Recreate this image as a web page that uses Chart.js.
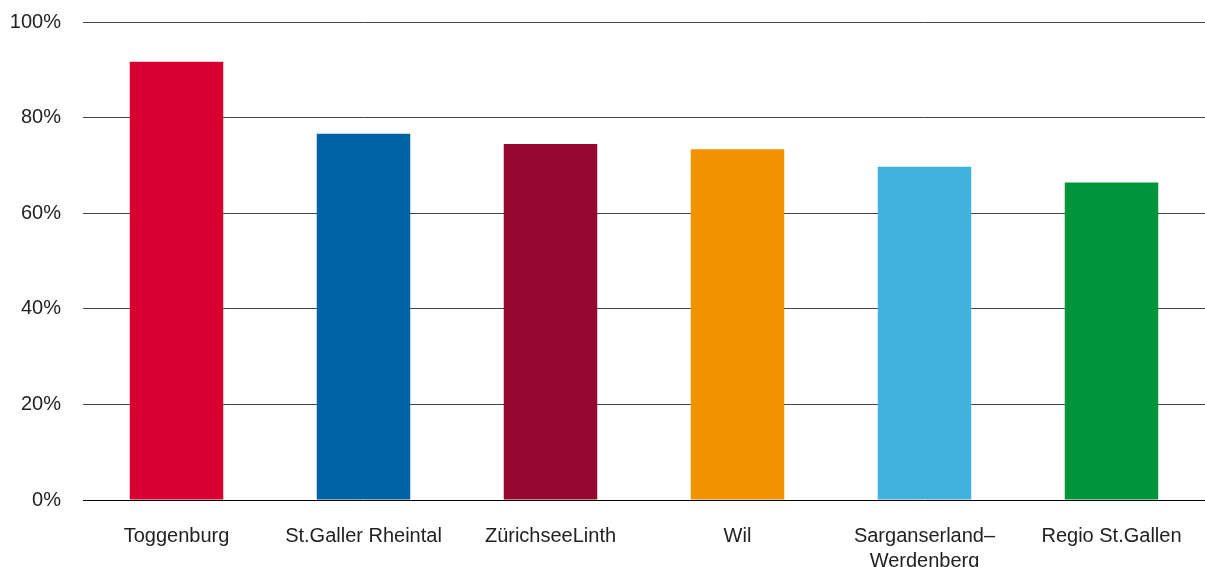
<!DOCTYPE html>
<html>
<head>
<meta charset="utf-8">
<script src="https://cdn.jsdelivr.net/npm/chart.js@4/dist/chart.umd.min.js"></script>
<style>
  html, body { margin: 0; padding: 0; background: #fff; }
  #wrap { width: 1205px; height: 567px; position: relative; }
</style>
</head>
<body>
<div id="wrap"><canvas id="chart"></canvas></div>
<script>
const regions = ["Toggenburg", "St.Galler Rheintal", "ZürichseeLinth", "Wil", ["Sarganserland–", "Werdenberg"], "Regio St.Gallen"]
const shares = [91.7, 76.6, 74.5, 73.4, 69.7, 66.4]
const barColors = ["#d70030", "#0063a6", "#950731", "#f39200", "#41b1dd", "#00953a"]
const yTicks = [0, 20, 40, 60, 80, 100]

Chart.defaults.font.family = "'Liberation Sans', Arial, sans-serif"
Chart.defaults.color = "#222"

new Chart(document.getElementById("chart"), {
  type: "bar",
  data: {
    labels: regions,
    datasets: [{
      data: shares,
      backgroundColor: barColors,
      borderWidth: 0,
      barPercentage: 0.5,
      categoryPercentage: 1
    }]
  },
  options: {
    responsive: true,
    maintainAspectRatio: false,
    animation: false,
    layout: { padding: 0 },
    plugins: { legend: { display: false }, tooltip: { enabled: false } },
    scales: {
      x: {
        grid: { display: false },
        border: { display: false },
        ticks: { font: { size: 20, lineHeight: 1.25 }, padding: 16, maxRotation: 0, autoSkip: false },
        afterFit: (scale) => { scale.height = 67 }
      },
      y: {
        min: 0,
        max: 100,
        afterBuildTicks: (scale) => { scale.ticks = yTicks.map(v => ({ value: v })) },
        grid: {
          drawTicks: false,
          color: (ctx) => ctx.tick && ctx.tick.value === 0 ? "#000" : "#444",
          lineWidth: 1
        },
        border: { display: false },
        ticks: {
          font: { size: 20 },
          padding: 22,
          callback: (v) => v + "%"
        },
        afterFit: (scale) => {
          scale.width = 83
          scale.paddingTop = 22
          scale.paddingBottom = 0
        }
      }
    }
  }
})
</script>
</body>
</html>
